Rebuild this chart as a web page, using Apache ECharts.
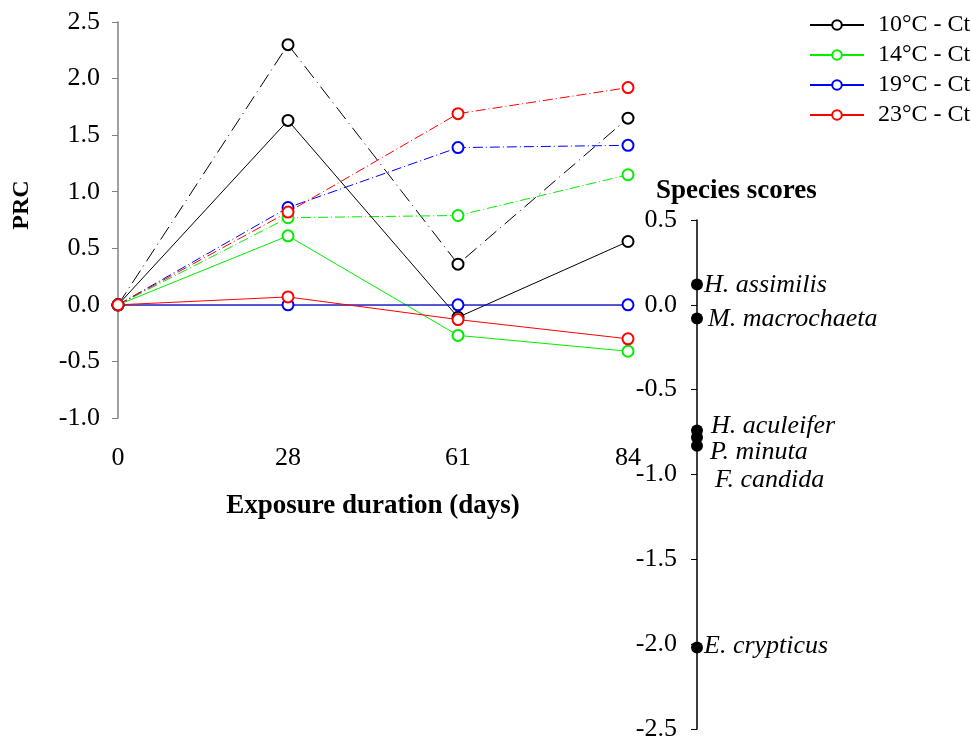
<!DOCTYPE html>
<html>
<head>
<meta charset="utf-8">
<script src="https://cdn.jsdelivr.net/npm/echarts@6/dist/echarts.min.js"></script>
<style>
  html, body { margin: 0; padding: 0; background: #fff; }
  #main { width: 971px; height: 742px; }
</style>
</head>
<body>
<div id="main"></div>
<script>
// sampling days on the x axis
var days = ['0', '28', '61', '84'];

// PRC values, solid lines (control)
var ct10 = [0, 1.63, -0.11, 0.56];
var ct14 = [0, 0.61, -0.27, -0.41];
var ct19 = [0, 0, 0, 0];
var ct23 = [0, 0.07, -0.13, -0.30];

// PRC values, dashed lines
var tr10 = [0, 2.30, 0.36, 1.65];
var tr14 = [0, 0.77, 0.79, 1.15];
var tr19 = [0, 0.86, 1.39, 1.41];
var tr23 = [0, 0.82, 1.69, 1.92];

// species scores
var speciesNames = ['H. assimilis', 'M. macrochaeta', 'H. aculeifer', 'P. minuta', 'F. candida', 'E. crypticus'];
var speciesScores = [0.12, -0.08, -0.74, -0.78, -0.83, -2.02];
// label nudges so the crowded names don't overlap
var labelOffsets = [[0, 1], [4, 1], [7, -4], [6, 15], [11, 35], [0, -1]];

var serif = 'Liberation Serif';

var myChart = echarts.init(document.getElementById('main'));

function solid(name, color, data) {
  return {
    name: name, type: 'line', data: data,
    xAxisIndex: 0, yAxisIndex: 0,
    symbol: 'emptyCircle', symbolSize: 11,
    itemStyle: { color: color, borderWidth: 0.8 },
    lineStyle: { color: color, width: 1 },
    z: 3
  };
}

function dashed(name, color, data, dash) {
  return {
    name: name, type: 'line', data: data,
    xAxisIndex: 0, yAxisIndex: 0,
    symbol: 'emptyCircle', symbolSize: 11,
    itemStyle: { color: color, borderWidth: 0.8 },
    lineStyle: { color: color, width: 1, type: dash },
    z: 2
  };
}

var scatterData = [];
for (let i = 0; i < speciesNames.length; i++) {
  scatterData.push({
    name: speciesNames[i],
    value: [0, speciesScores[i]],
    label: { offset: labelOffsets[i] }
  });
}

var option = {
  animation: false,
  backgroundColor: '#fff',
  textStyle: { fontFamily: serif },
  title: {
    text: 'Species scores',
    left: 651, top: 173,
    textStyle: { fontFamily: serif, fontSize: 27, fontWeight: 'bold', color: '#000' }
  },
  legend: {
    data: ['10°C - Ct', '14°C - Ct', '19°C - Ct', '23°C - Ct'],
    orient: 'vertical',
    left: 809, top: 13,
    padding: 0,
    itemWidth: 54, itemHeight: 12, itemGap: 6,
    textStyle: { fontFamily: serif, fontSize: 24, lineHeight: 23, color: '#000', padding: [0, 0, 0, 9] }
  },
  grid: [
    { left: 118, top: 22, width: 510, height: 396, outerBoundsMode: 'none' },
    { left: 697, top: 220, width: 200, height: 509, outerBoundsMode: 'none' }
  ],
  xAxis: [
    {
      gridIndex: 0, type: 'category', data: days, boundaryGap: false,
      axisLine: { lineStyle: { color: '#808080', width: 1 } },
      axisTick: { show: true, length: 6, lineStyle: { color: '#808080' } },
      axisLabel: { fontFamily: serif, fontSize: 26, color: '#000', margin: 27 },
      splitLine: { show: false },
      name: 'Exposure duration (days)', nameLocation: 'middle', nameGap: 75,
      nameMoveOverlap: false,
      nameTextStyle: { fontFamily: serif, fontSize: 27, fontWeight: 'bold', color: '#000' }
    },
    {
      gridIndex: 1, type: 'value', min: 0, max: 1, show: false
    }
  ],
  yAxis: [
    {
      gridIndex: 0, type: 'value', min: -1, max: 2.5, interval: 0.5,
      axisLine: { show: true, lineStyle: { color: '#808080', width: 1.5 } },
      axisTick: { show: true, length: 6, lineStyle: { color: '#808080' } },
      axisLabel: {
        fontFamily: serif, fontSize: 26, color: '#000', margin: 18,
        formatter: function (v) { return v.toFixed(1); }
      },
      splitLine: { show: false },
      name: 'PRC', nameLocation: 'middle', nameGap: 84, nameRotate: 90,
      nameMoveOverlap: false,
      nameTextStyle: { fontFamily: serif, fontSize: 24, fontWeight: 'bold', color: '#000', padding: [0, 0, 0, 30] }
    },
    {
      gridIndex: 1, type: 'value', min: -2.5, max: 0.5, interval: 0.5,
      axisLine: { show: true, lineStyle: { color: '#000', width: 1.5 } },
      axisTick: { show: true, length: 6, lineStyle: { color: '#000' } },
      axisLabel: {
        fontFamily: serif, fontSize: 26, color: '#000', margin: 20,
        formatter: function (v) { return v.toFixed(1); }
      },
      splitLine: { show: false }
    }
  ],
  series: [
    dashed('10°C - dashed', '#000000', tr10, [15, 5, 1, 5]),
    dashed('14°C - dashed', '#00ee00', tr14, [10, 3, 1, 3]),
    dashed('19°C - dashed', '#0000ff', tr19, [10, 3, 1, 3]),
    dashed('23°C - dashed', '#ff0000', tr23, [10, 3, 1, 3]),
    solid('10°C - Ct', '#000000', ct10),
    solid('14°C - Ct', '#00ee00', ct14),
    solid('19°C - Ct', '#0000ff', ct19),
    solid('23°C - Ct', '#ff0000', ct23),
    {
      name: 'Species scores', type: 'scatter',
      xAxisIndex: 1, yAxisIndex: 1,
      symbol: 'circle', symbolSize: 12,
      itemStyle: { color: '#000', opacity: 1 },
      data: scatterData,
      label: {
        show: true, position: 'right', distance: 1,
        formatter: '{b}',
        fontFamily: serif, fontSize: 26, fontStyle: 'italic', color: '#000'
      },
      z: 4
    }
  ]
};

myChart.setOption(option);
</script>
</body>
</html>
